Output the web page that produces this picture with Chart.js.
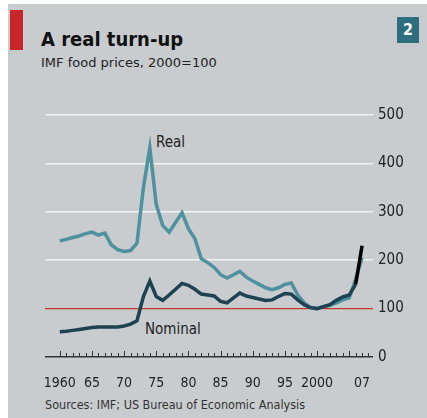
<!DOCTYPE html>
<html>
<head>
<meta charset="utf-8">
<script src="https://cdn.jsdelivr.net/npm/chart.js@4.4.1/dist/chart.umd.min.js"></script>
<style>
  html, body { margin:0; padding:0; }
  body { width:427px; height:418px; background:#fff; position:relative; overflow:hidden;
         font-family:"DejaVu Sans Condensed","DejaVu Sans",sans-serif; }
  #panel { position:absolute; left:8px; top:4px; width:419px; height:414px; background:#c8ccce; }
  #bar { position:absolute; left:10px; top:10px; width:13px; height:40px; background:#c9262b; }
  #badge { position:absolute; left:397px; top:17px; width:22px; height:26px; background:#2f6e7e;
           color:#fff; font-size:16px; font-weight:bold; text-align:center; line-height:26px; }
  #title { position:absolute; left:41px; top:27px; font-size:20px; font-weight:bold; color:#111; }
  #sub { position:absolute; left:41px; top:55px; font-size:13px; color:#222;
         font-family:"DejaVu Sans",sans-serif; }
  #src { position:absolute; left:45px; top:397px; font-size:12.5px; color:#333; }
  .lab { position:absolute; font-size:15px; color:#222; }
  canvas { position:absolute; left:0; top:0; }
</style>
</head>
<body>
<div id="panel"></div>
<div id="bar"></div>
<div id="badge">2</div>
<div id="title">A real turn-up</div>
<div id="sub">IMF food prices, 2000=100</div>
<div class="lab" style="left:156px;top:133px">Real</div>
<div class="lab" style="left:145px;top:320px">Nominal</div>
<div id="src">Sources: IMF; US Bureau of Economic Analysis</div>
<canvas id="c" width="427" height="418"></canvas>
<script>
// IMF food prices, 2000=100
const years = [1960,1961,1962,1963,1964,1965,1966,1967,1968,1969,
               1970,1971,1972,1973,1974,1975,1976,1977,1978,1979,
               1980,1981,1982,1983,1984,1985,1986,1987,1988,1989,
               1990,1991,1992,1993,1994,1995,1996,1997,1998,1999,
               2000,2001,2002,2003,2004,2005,2006,2007];
const real = [240,243,247,250,255,258,252,256,232,222,
              218,220,235,350,432,315,272,258,278,298,
              265,245,203,195,185,170,163,170,177,165,
              157,150,143,139,143,150,153,128,112,102,
              100,104,107,112,118,122,160,205];
const nominal = [52,53,55,57,59,61,62,62,62,62,
                 64,68,75,125,157,125,117,128,140,152,
                 148,140,130,128,126,115,112,122,132,126,
                 123,120,117,118,125,131,130,118,108,102,
                 100,104,108,117,124,128,150,230];
const xTicks = [1960,1965,1970,1975,1980,1985,1990,1995,2000,2007];
const xTickLabels = ['1960','65','70','75','80','85','90','95','2000','07'];
const yTicks = [0,100,200,300,400,500];

const realColor = '#4f919e';
const nomColor = '#1d4252';
const font = {family:'"DejaVu Sans Condensed","DejaVu Sans",sans-serif', size:14};

// yearly tick marks standing on the zero line
const yearTicks = {
  id:'yearTicks',
  afterDatasetsDraw(chart){
    const {ctx, scales:{x, y}} = chart;
    const y0 = y.getPixelForValue(0);
    ctx.save();
    ctx.strokeStyle = '#333';
    ctx.lineWidth = 1;
    for (let yr = 1960; yr <= 2008; yr++) {
      const px = Math.round(x.getPixelForValue(yr)) + 0.5;
      const len = yr % 5 === 0 ? 6 : 4;
      ctx.beginPath(); ctx.moveTo(px, y0); ctx.lineTo(px, y0 - len); ctx.stroke();
    }
    ctx.restore();
  }
};

new Chart('c', {
  type:'line',
  data:{
    datasets:[
      {label:'Nominal', data:years.map((yr,i)=>({x:yr,y:nominal[i]})),
       borderColor:nomColor, borderWidth:3.5, pointRadius:0, tension:0,
       segment:{borderColor: c => c.p0.parsed.x >= 2006 ? '#000' : nomColor}},
      {label:'Real', data:years.map((yr,i)=>({x:yr,y:real[i]})),
       borderColor:realColor, borderWidth:3.5, pointRadius:0, tension:0}
    ]
  },
  options:{
    responsive:false, animation:false,
    layout:{padding:{left:45, top:115, right:0, bottom:0}},
    plugins:{legend:{display:false}, tooltip:{enabled:false}},
    scales:{
      x:{
        type:'linear', min:1957.7, max:2008.7,
        afterBuildTicks: s => { s.ticks = xTicks.map(v => ({value:v})); },
        afterFit: s => { s.height = 61; },
        ticks:{autoSkip:false, maxRotation:0, padding:10, color:'#222', font,
               callback: v => xTickLabels[xTicks.indexOf(v)]},
        grid:{display:false}, border:{display:false}
      },
      y:{
        position:'right', min:0, max:500,
        afterBuildTicks: s => { s.ticks = yTicks.map(v => ({value:v})); },
        afterFit: s => { s.width = 54; },
        ticks:{padding:5, color:'#222', font:{family:font.family, size:15}},
        grid:{drawTicks:false,
              color: c => c.tick.value === 100 ? '#c0392b' : c.tick.value === 0 ? '#333' : '#f2f3f3',
              lineWidth: c => c.tick.value === 100 ? 1.2 : 1.5},
        border:{display:false}
      }
    }
  },
  plugins:[yearTicks]
});
</script>
</body>
</html>
